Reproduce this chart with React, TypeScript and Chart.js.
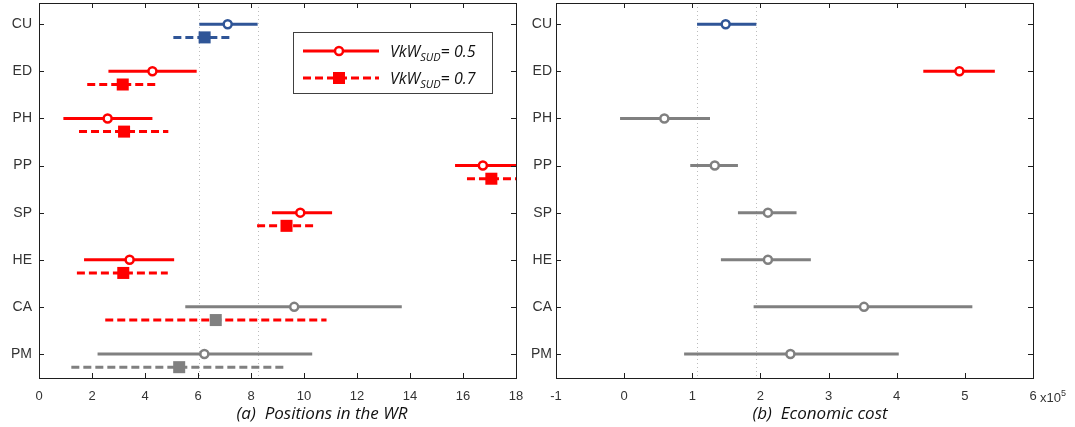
import React, { useEffect, useRef } from "react";
import { Chart, registerables } from "chart.js";
Chart.register(...registerables);

// ---------- data ----------
const categories = ["CU", "ED", "PH", "PP", "SP", "HE", "CA", "PM"];
const seriesLabels = ["0.5", "0.7"];

// (a) positions in the WR, VkW_SUD = 0.5
const pos05Low = [6.05, 2.62, 0.92, 15.7, 8.79, 1.7, 5.52, 2.21];
const pos05Mid = [7.12, 4.28, 2.59, 16.75, 9.86, 3.42, 9.63, 6.24];
const pos05High = [8.25, 5.95, 4.28, 18.6, 11.06, 5.1, 13.69, 10.31];
// (a) positions in the WR, VkW_SUD = 0.7
const pos07Low = [5.07, 1.82, 1.51, 16.15, 8.23, 1.43, 2.5, 1.22];
const pos07Mid = [6.25, 3.16, 3.21, 17.07, 9.34, 3.18, 6.67, 5.29];
const pos07High = [7.33, 4.47, 4.88, 18.6, 10.43, 4.86, 10.85, 9.32];
// (b) economic cost (x10^5)
const costLow = [1.07, 4.39, -0.06, 0.97, 1.67, 1.42, 1.9, 0.88];
const costMid = [1.49, 4.92, 0.59, 1.33, 2.11, 2.11, 3.52, 2.44];
const costHigh = [1.94, 5.44, 1.26, 1.67, 2.53, 2.74, 5.11, 4.03];

const posTicks = [0, 2, 4, 6, 8, 10, 12, 14, 16, 18];
const costTicks = [-1, 0, 1, 2, 3, 4, 5, 6];

// colour keys per category
const pos05Colors = ["b", "r", "r", "r", "r", "r", "g", "g"];
const pos07LineColors = ["b", "r", "r", "r", "r", "r", "r", "g"];
const pos07MarkerColors = ["b", "r", "r", "r", "r", "r", "g", "g"];
const costColors = ["b", "r", "g", "g", "g", "g", "g", "g"];

// ---------- styles ----------
const PALETTE: Record<string, string> = { b: "#2F5597", r: "#FF0000", g: "#808080" };
const SHIFT_07 = 0.28;
const TICK_FONT = "Liberation Sans";
const TITLE_FONT = "'Open Sans'";

function errorBars(
  lo: number[], mid: number[], hi: number[],
  lineKeys: string[], markerKeys: string[],
  shift: number, dashed: boolean, square: boolean
) {
  const ds: any[] = [];
  categories.forEach((_, i) => {
    const y = i + 1 + shift;
    ds.push({
      data: [{ x: lo[i], y }, { x: hi[i], y }],
      showLine: true,
      borderColor: PALETTE[lineKeys[i]],
      borderWidth: 3,
      borderDash: dashed ? [8, 4] : [],
      pointRadius: 0,
      order: 2,
    });
    const c = PALETTE[markerKeys[i]];
    ds.push({
      data: [{ x: mid[i], y }],
      pointStyle: square ? "rect" : "circle",
      pointRadius: square ? 8.5 : 4,
      borderWidth: square ? 0 : 2.5,
      backgroundColor: square ? c : "#ffffff",
      borderColor: c,
      order: 1,
    });
  });
  return ds;
}

const decor = {
  id: "decor",
  beforeDatasetsDraw(chart: any, _a: any, o: any) {
    const { ctx, chartArea: a } = chart;
    const x = chart.scales.x;
    ctx.save();
    ctx.strokeStyle = "#bdbdbd";
    ctx.lineWidth = 1;
    ctx.setLineDash([1, 3]);
    for (const v of o.refLines) {
      const px = Math.round(x.getPixelForValue(v)) + 0.5;
      ctx.beginPath();
      ctx.moveTo(px, a.top);
      ctx.lineTo(px, a.bottom);
      ctx.stroke();
    }
    ctx.restore();
  },
  afterDraw(chart: any, _a: any, o: any) {
    const { ctx, chartArea: a } = chart;
    const x = chart.scales.x;
    const y = chart.scales.y;
    ctx.save();
    ctx.strokeStyle = "#1e1e1e";
    ctx.lineWidth = 1;
    ctx.setLineDash([]);
    ctx.strokeRect(a.left + 0.5, a.top + 0.5, a.right - a.left, a.bottom - a.top);
    ctx.beginPath();
    for (const t of x.ticks) {
      const px = Math.round(x.getPixelForValue(t.value)) + 0.5;
      ctx.moveTo(px, a.bottom);
      ctx.lineTo(px, a.bottom - 5);
      ctx.moveTo(px, a.top);
      ctx.lineTo(px, a.top + 5);
    }
    for (const t of y.ticks) {
      const py = Math.round(y.getPixelForValue(t.value)) + 0.5;
      ctx.moveTo(a.left, py);
      ctx.lineTo(a.left + 5, py);
      ctx.moveTo(a.right, py);
      ctx.lineTo(a.right - 5, py);
    }
    ctx.stroke();

    // axis title
    ctx.fillStyle = "#111111";
    ctx.font = `italic 17px ${TITLE_FONT}`;
    ctx.textAlign = "center";
    ctx.textBaseline = "alphabetic";
    ctx.fillText(o.title, o.titleX, o.titleY);

    if (o.exponent) {
      ctx.textAlign = "left";
      ctx.fillStyle = "#333333";
      ctx.font = `13px ${TICK_FONT}`;
      const ex = a.right + 7;
      ctx.fillText("x10", ex, 402);
      const w = ctx.measureText("x10").width;
      ctx.font = `9px ${TICK_FONT}`;
      ctx.fillText(o.exponent, ex + w, 396);
    }

    if (o.legend) {
      const L = o.legend;
      ctx.strokeStyle = "#404040";
      ctx.lineWidth = 1;
      ctx.strokeRect(L.x + 0.5, L.y + 0.5, L.w, L.h);
      L.rows.forEach((r: any) => {
        const ry = r.y;
        ctx.strokeStyle = r.color;
        ctx.lineWidth = 3;
        ctx.setLineDash(r.dashed ? [8, 4] : []);
        ctx.beginPath();
        ctx.moveTo(L.x + 10, ry);
        ctx.lineTo(L.x + 86, ry);
        ctx.stroke();
        ctx.setLineDash([]);
        const mx = L.x + 46;
        if (r.square) {
          ctx.fillStyle = r.color;
          ctx.fillRect(mx - 6, ry - 6, 12, 12);
        } else {
          ctx.beginPath();
          ctx.arc(mx, ry, 4, 0, Math.PI * 2);
          ctx.fillStyle = "#ffffff";
          ctx.fill();
          ctx.lineWidth = 2.5;
          ctx.stroke();
        }
        ctx.fillStyle = "#111111";
        ctx.textAlign = "left";
        let tx = L.x + 97;
        ctx.font = `italic 16px ${TITLE_FONT}`;
        ctx.fillText("VkW", tx, ry + 6);
        tx += ctx.measureText("VkW").width;
        ctx.font = `italic 11px ${TITLE_FONT}`;
        ctx.fillText("SUD", tx, ry + 10);
        tx += ctx.measureText("SUD").width;
        ctx.font = `italic 16px ${TITLE_FONT}`;
        ctx.fillText("= " + r.label, tx, ry + 6);
      });
    }
    ctx.restore();
  },
};

function makeConfig(opts: {
  datasets: any[]; ticks: number[]; min: number; max: number;
  yWidth: number; yPad: number; padRight: number; decor: any;
}) {
  return {
    type: "scatter",
    data: { datasets: opts.datasets },
    plugins: [decor],
    options: {
      responsive: false,
      animation: false,
      events: [],
      layout: { autoPadding: false, padding: { left: 0, right: opts.padRight, top: 3, bottom: 0 } },
      plugins: {
        legend: { display: false },
        tooltip: { enabled: false },
        decor: opts.decor,
      },
      scales: {
        x: {
          type: "linear",
          min: opts.min,
          max: opts.max,
          afterBuildTicks: (s: any) => {
            s.ticks = opts.ticks.map((v) => ({ value: v }));
          },
          afterFit: (s: any) => {
            s.height = 49;
            s.paddingLeft = 0;
            s.paddingRight = 0;
          },
          grid: { display: false, drawTicks: false },
          border: { display: false },
          ticks: {
            autoSkip: false,
            maxRotation: 0,
            padding: 11,
            color: "#333333",
            font: { family: TICK_FONT, size: 13, lineHeight: 1.2 },
            callback: (v: number) => String(v),
          },
        },
        y: {
          type: "linear",
          reverse: true,
          min: 0.55,
          max: 8.51,
          afterBuildTicks: (s: any) => {
            s.ticks = categories.map((_, i) => ({ value: i + 1 }));
          },
          afterFit: (s: any) => {
            s.width = opts.yWidth;
            s.paddingTop = 0;
            s.paddingBottom = 0;
          },
          grid: { display: false, drawTicks: false },
          border: { display: false },
          ticks: {
            autoSkip: false,
            padding: opts.yPad,
            color: "#333333",
            font: { family: TICK_FONT, size: 14 },
            callback: (v: number) => categories[Math.round(v) - 1] ?? "",
          },
        },
      },
    },
  };
}

function ChartBox({ build, left, width }: { build: () => any; left: number; width: number }) {
  const ref = useRef<HTMLCanvasElement>(null);
  useEffect(() => {
    const chart = new Chart(ref.current as HTMLCanvasElement, build());
    return () => chart.destroy();
  }, []);
  return (
    <canvas
      ref={ref}
      width={width}
      height={427}
      style={{ position: "absolute", left, top: 0, width, height: 427 }}
    />
  );
}

export default function App() {
  const buildLeft = () =>
    makeConfig({
      datasets: [
        ...errorBars(pos05Low, pos05Mid, pos05High, pos05Colors, pos05Colors, 0, false, false),
        ...errorBars(pos07Low, pos07Mid, pos07High, pos07LineColors, pos07MarkerColors, SHIFT_07, true, true),
      ],
      ticks: posTicks,
      min: 0,
      max: 18,
      yWidth: 39,
      yPad: 7,
      padRight: 14,
      decor: {
        refLines: [pos05Low[0], pos05High[0]],
        title: "(a)  Positions in the WR",
        titleX: 322,
        titleY: 419,
        legend: {
          x: 293,
          y: 32,
          w: 199,
          h: 61,
          rows: [
            { y: 51, color: PALETTE.r, dashed: false, square: false, label: seriesLabels[0] },
            { y: 78, color: PALETTE.r, dashed: true, square: true, label: seriesLabels[1] },
          ],
        },
      },
    });
  const buildRight = () =>
    makeConfig({
      datasets: errorBars(costLow, costMid, costHigh, costColors, costColors, 0, false, false),
      ticks: costTicks,
      min: -1,
      max: 6,
      yWidth: 26,
      yPad: 4,
      padRight: 42,
      decor: {
        refLines: [costLow[0], costHigh[0]],
        title: "(b)  Economic cost",
        titleX: 290,
        titleY: 419,
        exponent: "5",
      },
    });
  return (
    <div style={{ position: "absolute", left: 0, top: 0, width: 1075, height: 427, background: "#ffffff" }}>
      <ChartBox build={buildLeft} left={0} width={530} />
      <ChartBox build={buildRight} left={530} width={545} />
    </div>
  );
}
